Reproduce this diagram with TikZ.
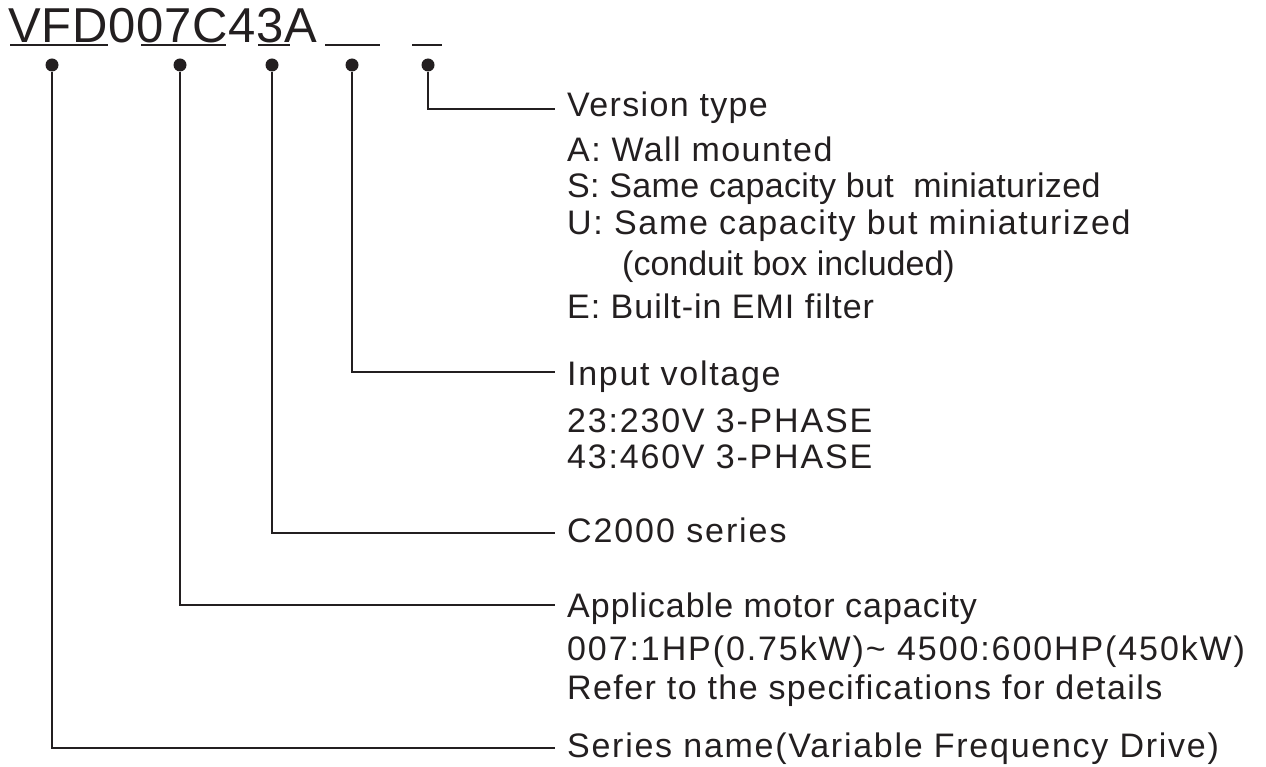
\documentclass[tikz,border=0pt]{standalone}
\usepackage{fontspec}
\setmainfont{Liberation Sans}
\definecolor{ink}{RGB}{35,31,32}
\begin{document}
\begin{tikzpicture}[x=1pt,y=-1pt,
  lbl/.style={anchor=base west,inner sep=0pt,text=ink,font=\fontsize{34pt}{40pt}\selectfont\addfontfeature{LetterSpace=#1}},
  ttl/.style={anchor=base west,inner sep=0pt,text=ink,font=\fontsize{49pt}{56pt}\selectfont\addfontfeature{LetterSpace=1.5}},
  dot/.style={circle,fill=ink,inner sep=0pt,minimum size=13pt},
  conn/.style={draw=ink,line width=1.1pt},
  uline/.style={draw=ink,line width=1.8pt}]
\useasboundingbox[fill=white] (0,0) rectangle (1266,767);
% code
\node[ttl] (code) at (8,43) {VFD007C43A};
\draw[uline] (10,45) -- (108,45);
\draw[uline] (141,45) -- (226,45);
\draw[uline] (258,45) -- (290,45);
\draw[uline] (325,45) -- (380,45);
\draw[uline] (412,45) -- (442,45);
% dots
\node[dot] (d1) at (52,65) {};
\node[dot] (d2) at (180,65) {};
\node[dot] (d3) at (272,65) {};
\node[dot] (d4) at (352,65) {};
\node[dot] (d5) at (428,65) {};
% line ends
\coordinate (e5) at (555,109);
\coordinate (e4) at (555,372);
\coordinate (e3) at (555,533);
\coordinate (e2) at (555,605);
\coordinate (e1) at (555,748);
% version type
\node[lbl=4] (h5) at (567,117) {Version type};
\node[lbl=4.2] (v1) at (567,162) {A: Wall mounted};
\node[lbl=1] (v2) at (567,198) {S: Same capacity but\ \ miniaturized};
\node[lbl=5] (v3) at (567,235) {U: Same capacity but miniaturized};
\node[lbl=0] (v4) at (622,276) {(conduit box included)};
\node[lbl=2.9] (v5) at (567,318) {E: Built-in EMI filter};
% input voltage
\node[lbl=5] (h4) at (567,385) {Input voltage};
\node[lbl=5.3] (i1) at (567,432) {23:230V 3-PHASE};
\node[lbl=5.3] (i2) at (567,468) {43:460V 3-PHASE};
% series
\node[lbl=5.6] (h3) at (567,542) {C2000 series};
% capacity
\node[lbl=3] (h2) at (567,617) {Applicable motor capacity};
\node[lbl=5.6] (c1) at (567,660) {007:1HP(0.75kW)\textasciitilde\ 4500:600HP(450kW)};
\node[lbl=4.2] (c2) at (567,699) {Refer to the specifications for details};
% name
\node[lbl=5.1] (h1) at (567,757) {Series name(Variable Frequency Drive)};
% connectors
\draw[conn] (d1) |- (e1);
\draw[conn] (d2) |- (e2);
\draw[conn] (d3) |- (e3);
\draw[conn] (d4) |- (e4);
\draw[conn] (d5) |- (e5);
\end{tikzpicture}
\end{document}
